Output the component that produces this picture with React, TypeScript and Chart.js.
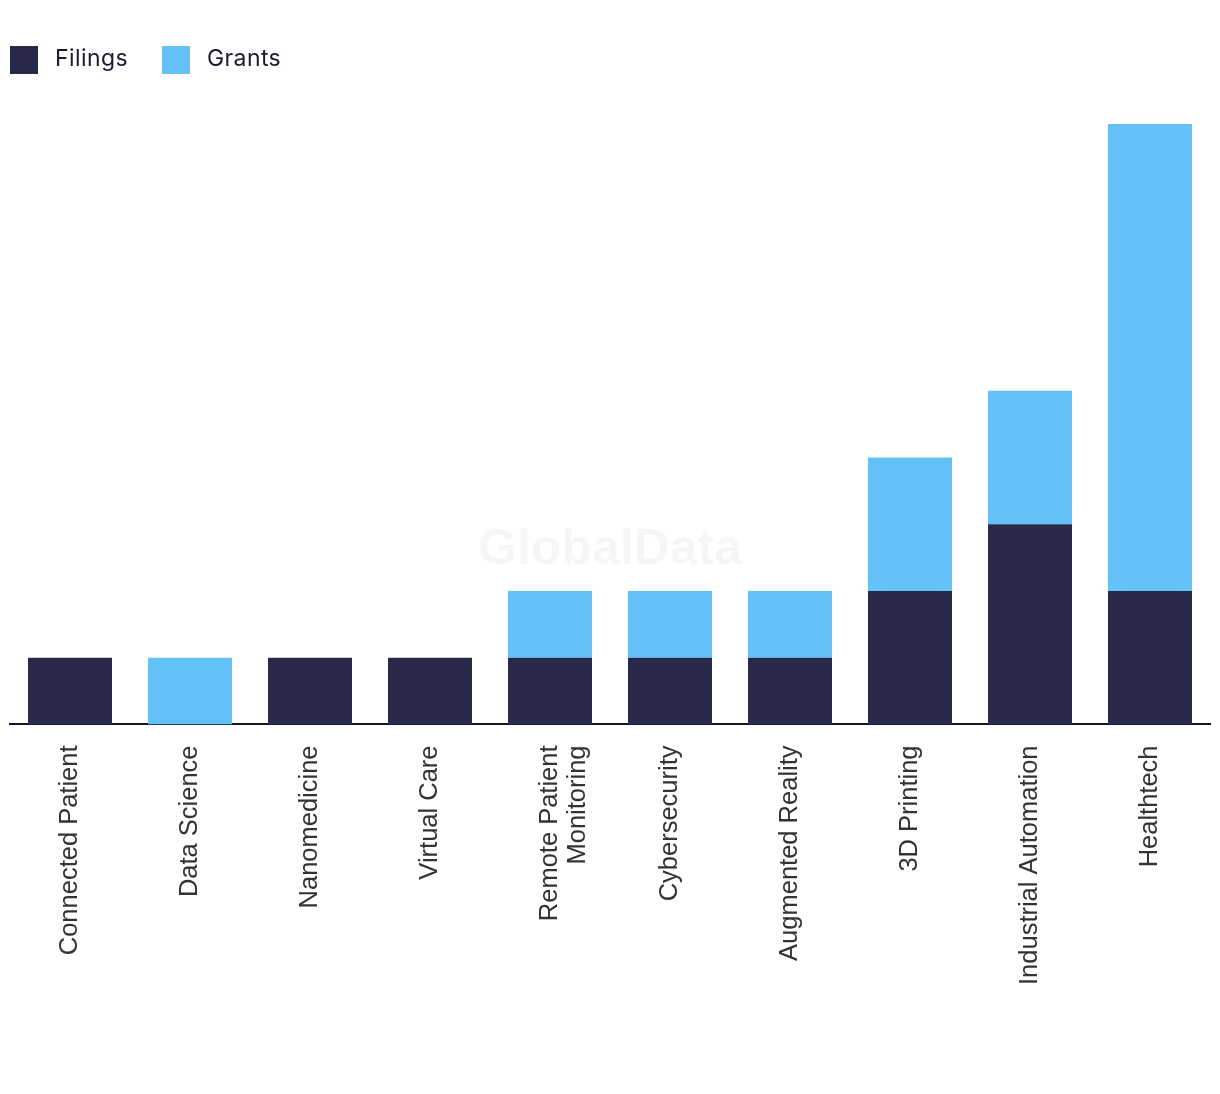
import React, { useEffect, useRef } from "react";
import { Chart, registerables } from "chart.js";

Chart.register(...registerables);

const categories: (string | string[])[] = [
  "Connected Patient",
  "Data Science",
  "Nanomedicine",
  "Virtual Care",
  ["Remote Patient", "Monitoring"],
  "Cybersecurity",
  "Augmented Reality",
  "3D Printing",
  "Industrial Automation",
  "Healthtech",
];
const seriesNames = ["Filings", "Grants"];
const seriesColors = ["#28284a", "#62c2f8"];
const filings = [1, 0, 1, 1, 1, 1, 1, 2, 3, 2];
const grants = [0, 1, 0, 0, 1, 1, 1, 2, 2, 7];

const watermark = {
  id: "watermark",
  beforeDatasetsDraw(chart: any) {
    const { ctx, chartArea } = chart;
    ctx.save();
    ctx.font = "bold 50px 'Liberation Sans', Arial, sans-serif";
    ctx.fillStyle = "rgba(0,0,0,0.035)";
    ctx.textAlign = "center";
    ctx.textBaseline = "middle";
    ctx.fillText("GlobalData", (chartArea.left + chartArea.right) / 2, 542);
    ctx.restore();
  },
};

export default function App() {
  const ref = useRef<HTMLCanvasElement>(null);
  useEffect(() => {
    if (!ref.current) return;
    const chart = new Chart(ref.current, {
      type: "bar",
      data: {
        labels: categories,
        datasets: [
          {
            label: seriesNames[0],
            data: filings,
            backgroundColor: seriesColors[0],
            barPercentage: 0.7,
            categoryPercentage: 1,
          },
          {
            label: seriesNames[1],
            data: grants,
            backgroundColor: seriesColors[1],
            barPercentage: 0.7,
            categoryPercentage: 1,
          },
        ],
      },
      options: {
        animation: false,
        responsive: true,
        maintainAspectRatio: false,
        layout: { padding: { left: 2, right: 2, top: 116, bottom: 88 } },
        plugins: {
          legend: { display: false },
          tooltip: { enabled: false },
        },
        scales: {
          x: {
            stacked: true,
            grid: { display: false },
            border: { display: true, color: "#14142b", width: 2 },
            ticks: {
              minRotation: 90,
              maxRotation: 90,
              padding: 13,
              color: "#333333",
              font: { family: "'Liberation Sans', Arial, sans-serif", size: 25.5, lineHeight: 1.1 },
            },
          },
          y: {
            stacked: true,
            display: false,
            min: 0,
            max: 9,
          },
        },
      },
      plugins: [watermark],
    });
    return () => chart.destroy();
  }, []);

  const legendItem = (i: number, left: number) => (
    <div
      key={i}
      style={{
        position: "absolute",
        left,
        top: 38,
        display: "flex",
        alignItems: "center",
        height: 28,
      }}
    >
      <div style={{ width: 28, height: 28, background: seriesColors[i] }} />
      <span
        style={{
          marginLeft: 17,
          marginTop: -4,
          fontFamily: "Inter, 'Noto Sans', sans-serif",
          fontSize: 23,
          color: "#1a1a2e",
          letterSpacing: 0.4,
          lineHeight: "28px",
        }}
      >
        {seriesNames[i]}
      </span>
    </div>
  );

  return (
    <div style={{ width: 1204, height: 1078, position: "relative" }}>
      <canvas ref={ref} />
      {legendItem(0, 2)}
      {legendItem(1, 154)}
    </div>
  );
}
